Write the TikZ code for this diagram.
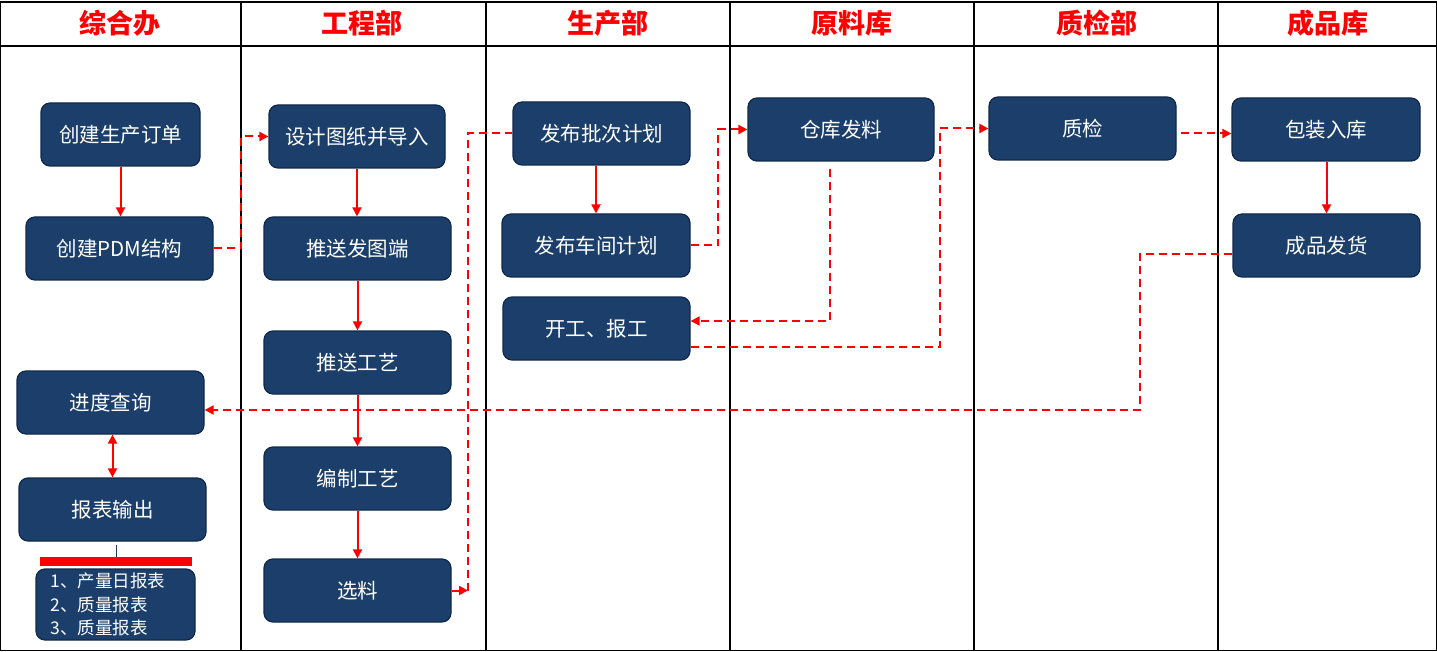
\documentclass[tikz,border=0pt]{standalone}
\usepackage{fontspec}
\setmainfont{Noto Sans CJK SC}
\usetikzlibrary{arrows.meta}
\definecolor{boxfill}{HTML}{1B3F6A}
\definecolor{boxline}{HTML}{10294A}
\begin{document}
\begin{tikzpicture}[x=1pt,y=-1pt,
 box/.style={draw=boxline, line width=1.2pt, fill=boxfill, rounded corners=9pt, text=white,
   font=\fontsize{20.5}{24}\selectfont, inner sep=0pt, minimum width=187pt, minimum height=63pt},
 flow/.style={red, line width=2pt, -{Triangle[length=9pt,width=9pt]}},
 dflow/.style={flow, dash pattern=on 8pt off 5pt},
 dline/.style={red, line width=2pt, dash pattern=on 8pt off 5pt},
 hdr/.style={text=red, font=\fontsize{27}{30}\selectfont\bfseries},
 lane/.style={black, line width=1.3pt}]
\useasboundingbox (0,0) rectangle (1437,652);
\fill[white] (0,0) rectangle (1437,652);
% frame and lanes
\draw[lane] (0.6,2) rectangle (1436.4,650.5);
\draw[lane] (0,46) -- (1437,46);
\foreach \x in {241,486,730,974,1218} \draw[lane] (\x,2) -- (\x,650.5);
% headers
\node[hdr] (h1) at (120,23) {综合办};
\node[hdr] (h2) at (362,23) {工程部};
\node[hdr] (h3) at (608,23) {生产部};
\node[hdr] (h4) at (852,23) {原料库};
\node[hdr] (h5) at (1097,23) {质检部};
\node[hdr] (h6) at (1328,23) {成品库};
% boxes
\node[box, minimum width=159pt] (n1) at (120.5,134.5) {创建生产订单};
\node[box] (n2) at (119.5,248.5) {创建PDM结构};
\node[box] (n3) at (110.5,402.5) {进度查询};
\node[box] (n4) at (112.5,509.5) {报表输出};
\node[fill=red, minimum width=152pt, minimum height=9pt, inner sep=0pt] (bar) at (116,561.5) {};
\node[box, minimum width=159pt, minimum height=71pt, text width=130pt, align=left, font=\fontsize{17.5}{23.5}\selectfont] (list) at (115.5,604.5) {1、产量日报表\\2、质量报表\\3、质量报表};
\node[box, minimum width=176pt] (e1) at (357,136.5) {设计图纸并导入};
\node[box] (e2) at (357.5,248.5) {推送发图端};
\node[box] (e3) at (357.5,362.5) {推送工艺};
\node[box] (e4) at (357.5,478.5) {编制工艺};
\node[box] (e5) at (357.5,590.5) {选料};
\node[box, minimum width=177pt] (p1) at (601.5,133.5) {发布批次计划};
\node[box, minimum width=188pt] (p2) at (596,245.5) {发布车间计划};
\node[box] (p3) at (596.5,328.5) {开工、报工};
\node[box, minimum width=186pt] (m1) at (841,129.5) {仓库发料};
\node[box] (q1) at (1082.5,128.5) {质检};
\node[box, minimum width=188pt] (f1) at (1326,129.5) {包装入库};
\node[box] (f2) at (1326.5,245.5) {成品发货};
% bend columns
\coordinate (b1) at (241,0);
\coordinate (b2) at (468,0);
\coordinate (b3) at (718,0);
\coordinate (b4) at (830,0);
\coordinate (b5) at (940,0);
\coordinate (b6) at (1140,0);
% solid connectors
\draw[flow] (n1.south) -- (n1.south |- n2.north);
\draw[flow] (e1.south) -- (e1.south |- e2.north);
\draw[flow] (e2.south) -- (e3.north);
\draw[flow] (e3.south) -- (e4.north);
\draw[flow] (e4.south) -- (e5.north);
\draw[flow] (p2.north |- p1.south) -- (p2.north);
\draw[flow] (f2.north |- f1.south) -- (f2.north);
\draw[red, line width=2pt, {Triangle[length=9pt,width=9pt]}-{Triangle[length=9pt,width=9pt]}] (n4.north |- n3.south) -- (n4.north);
\coordinate (n4s) at ([yshift=-3pt]n4.south);
\draw[line width=0.8pt, boxline!80!gray] (n4s -| bar.north) -- (bar.north);
% dashed connectors
\draw[dflow] (n2.east) -- (n2.east -| b1) |- (e1.west);
\draw[dflow] (e5.east) -- (e5.east -| b2);
\draw[dline] (e5.east -| b2) |- (p1.west);
\draw[dflow] (p2.east) -- (p2.east -| b3) |- (m1.west);
\coordinate (m1s) at ([yshift=-7pt]m1.south);
\draw[dflow] (m1s -| b4) |- ([yshift=7.5pt]p3.east);
\coordinate (p3o) at ([yshift=-18.5pt]p3.east);
\draw[dflow] (p3o) -- (p3o -| b5) |- (q1.west);
\coordinate (qa) at ([xshift=4pt,yshift=-5pt]q1.east);
\draw[dflow] (qa) -- (qa -| f1.west);
\coordinate (f2o) at ([yshift=-8.5pt]f2.west);
\draw[dflow] (f2o) -- (f2o -| b6) |- ([yshift=-7.5pt]n3.east);
\end{tikzpicture}
\end{document}
